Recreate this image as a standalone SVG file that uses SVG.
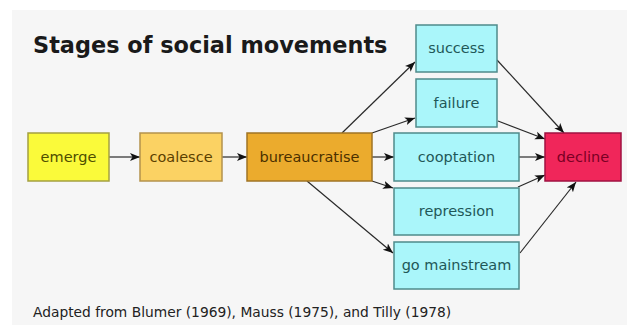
<svg xmlns="http://www.w3.org/2000/svg" width="627" height="325" viewBox="0 0 627 325">
<style>
  .bg { fill: #f6f6f6; }
  .box { stroke-width: 1.5; }
  .lbl { font-family: "DejaVu Sans", "Liberation Sans", sans-serif; font-size: 14.5px; text-anchor: middle; }
  .title { font-family: "DejaVu Sans", "Liberation Sans", sans-serif; font-size: 22.4px; font-weight: bold; fill: #1a1a1a; }
  .foot { font-family: "DejaVu Sans", "Liberation Sans", sans-serif; font-size: 13.8px; fill: #222; }
  .yel rect { fill: #fafa3a; stroke: #a4a040; }
  .yel text { fill: #4e4e00; }
  .lor rect { fill: #fbd263; stroke: #b4924c; }
  .lor text { fill: #5a4000; }
  .org rect { fill: #ebab2d; stroke: #a07424; }
  .org text { fill: #4a3000; }
  .cy rect { fill: #aaf6fa; stroke: #4f8b8b; }
  .cy text { fill: #1f5858; }
  .red rect { fill: #f0265a; stroke: #a01242; }
  .red text { fill: #7a0024; }
  #connectors path { fill: none; stroke: #2a2a2a; stroke-width: 1.2; marker-end: url(#arr); }
</style>
<defs>
  <marker id="arr" markerUnits="userSpaceOnUse" markerWidth="12" markerHeight="10" refX="10" refY="4.5" orient="auto">
    <path d="M0,0.5 L10,4.5 L0,8.5 L2.5,4.5 z" fill="#111"/>
  </marker>
</defs>
<rect class="bg" x="12" y="10" width="615" height="315"/>
<text class="title" x="33" y="53">Stages of social movements</text>

<g id="connectors">
  <path d="M109,157 L140,157"/>
  <path d="M222,157 L247,157"/>
  <path d="M342,133 L415,62"/>
  <path d="M372,133 L415,118"/>
  <path d="M372,157 L394,157"/>
  <path d="M372,181 L393,188"/>
  <path d="M307,181 L393,253"/>
  <path d="M497,60 L564,133"/>
  <path d="M498,121 L545,139"/>
  <path d="M519,157 L545,157"/>
  <path d="M518,187 L545,175"/>
  <path d="M520,253 L576,182"/>
</g>

<g id="emerge" class="yel"><rect class="box" x="28" y="133" width="81" height="48"/><text class="lbl" x="68.5" y="162">emerge</text></g>
<g id="coalesce" class="lor"><rect class="box" x="140" y="133" width="82" height="48"/><text class="lbl" x="181" y="162">coalesce</text></g>
<g id="bureaucratise" class="org"><rect class="box" x="247" y="133" width="125" height="48"/><text class="lbl" x="309.5" y="162">bureaucratise</text></g>
<g id="success" class="cy"><rect class="box" x="416" y="25" width="81" height="47"/><text class="lbl" x="456.5" y="53">success</text></g>
<g id="failure" class="cy"><rect class="box" x="416" y="79" width="81" height="48"/><text class="lbl" x="456.5" y="108">failure</text></g>
<g id="cooptation" class="cy"><rect class="box" x="394" y="133" width="125" height="48"/><text class="lbl" x="456.5" y="162">cooptation</text></g>
<g id="repression" class="cy"><rect class="box" x="394" y="188" width="125" height="47"/><text class="lbl" x="456.5" y="216">repression</text></g>
<g id="go-mainstream" class="cy"><rect class="box" x="394" y="242" width="125" height="47"/><text class="lbl" x="456.5" y="270">go mainstream</text></g>
<g id="decline" class="red"><rect class="box" x="545" y="133" width="76" height="48"/><text class="lbl" x="583" y="162">decline</text></g>

<text class="foot" x="33" y="317">Adapted from Blumer (1969), Mauss (1975), and Tilly (1978)</text>
</svg>
